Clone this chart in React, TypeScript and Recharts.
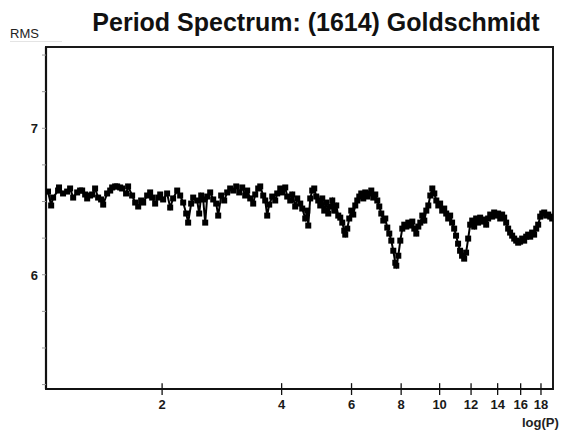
import React from 'react'
import { LineChart, Line, XAxis, YAxis, ReferenceArea, ReferenceLine } from 'recharts'

const TITLE = 'Period Spectrum: (1614) Goldschmidt'

// trial period (hours), plotted on a log axis
const periods = [
  1.032, 1.051, 1.063, 1.094, 1.1, 1.126, 1.153, 1.173, 1.194, 1.222,
  1.243, 1.258, 1.28, 1.295, 1.317, 1.333, 1.356, 1.38, 1.404, 1.421,
  1.454, 1.48, 1.497, 1.523, 1.541, 1.568, 1.586, 1.623, 1.642, 1.681,
  1.711, 1.741, 1.771, 1.792, 1.834, 1.866, 1.888, 1.921, 1.955, 1.978,
  2.012, 2.059, 2.096, 2.132, 2.183, 2.221, 2.26, 2.3, 2.326, 2.367,
  2.395, 2.451, 2.48, 2.509, 2.538, 2.568, 2.598, 2.643, 2.69, 2.737,
  2.769, 2.817, 2.867, 2.917, 2.968, 3.021, 3.074, 3.128, 3.183, 3.238,
  3.276, 3.334, 3.392, 3.432, 3.492, 3.533, 3.595, 3.637, 3.679, 3.722,
  3.788, 3.854, 3.899, 3.968, 4.014, 4.085, 4.132, 4.205, 4.254, 4.328,
  4.379, 4.456, 4.508, 4.587, 4.641, 4.668, 4.722, 4.777, 4.833, 4.889,
  4.946, 5.004, 5.063, 5.122, 5.181, 5.242, 5.303, 5.365, 5.428, 5.491,
  5.555, 5.62, 5.686, 5.752, 5.785, 5.853, 5.921, 5.99, 6.06, 6.131,
  6.203, 6.275, 6.348, 6.422, 6.497, 6.573, 6.65, 6.728, 6.806, 6.886,
  6.966, 7.047, 7.13, 7.213, 7.297, 7.382, 7.468, 7.556, 7.644, 7.733,
  7.778, 7.869, 7.961, 8.053, 8.147, 8.242, 8.339, 8.436, 8.535, 8.634,
  8.735, 8.837, 8.94, 9.044, 9.15, 9.257, 9.365, 9.474, 9.585, 9.697,
  9.81, 9.924, 10.03, 10.15, 10.27, 10.39, 10.51, 10.63, 10.75, 10.88,
  11.0, 11.13, 11.26, 11.39, 11.53, 11.66, 11.8, 11.94, 12.08, 12.22,
  12.36, 12.5, 12.65, 12.8, 12.95, 13.1, 13.25, 13.41, 13.56, 13.72,
  13.88, 14.04, 14.21, 14.37, 14.54, 14.71, 14.88, 15.05, 15.23, 15.41,
  15.59, 15.77, 15.95, 16.14, 16.33, 16.52, 16.71, 16.91, 17.1, 17.3,
  17.51, 17.71, 17.92, 18.13, 18.34, 18.55, 18.77, 18.99, 19.21,
]

// RMS of the fit residuals at each trial period
const rms = [
  6.568, 6.473, 6.527, 6.575, 6.596, 6.555, 6.568, 6.589, 6.527, 6.562,
  6.575, 6.575, 6.548, 6.521, 6.541, 6.548, 6.589, 6.527, 6.514, 6.479,
  6.555, 6.575, 6.596, 6.603, 6.603, 6.596, 6.589, 6.555, 6.603, 6.541,
  6.493, 6.466, 6.507, 6.493, 6.541, 6.562, 6.527, 6.486, 6.527, 6.548,
  6.514, 6.555, 6.459, 6.521, 6.575, 6.541, 6.493, 6.418, 6.356, 6.486,
  6.527, 6.507, 6.418, 6.541, 6.514, 6.356, 6.534, 6.562, 6.514, 6.486,
  6.404, 6.541, 6.507, 6.562, 6.589, 6.575, 6.603, 6.562, 6.596, 6.541,
  6.575, 6.521, 6.486, 6.548, 6.589, 6.603, 6.541, 6.507, 6.404, 6.479,
  6.534, 6.507, 6.555, 6.589, 6.562, 6.596, 6.534, 6.507, 6.548, 6.466,
  6.521, 6.486, 6.452, 6.384, 6.438, 6.336, 6.521, 6.575, 6.589, 6.534,
  6.507, 6.473, 6.521, 6.438, 6.493, 6.418, 6.466, 6.507, 6.438, 6.473,
  6.404, 6.39, 6.356, 6.301, 6.274, 6.315, 6.384, 6.438, 6.411, 6.473,
  6.507, 6.534, 6.555, 6.521, 6.562, 6.534, 6.555, 6.575, 6.527, 6.548,
  6.507, 6.466, 6.418, 6.37, 6.384, 6.322, 6.281, 6.233, 6.164, 6.082,
  6.062, 6.13, 6.233, 6.315, 6.342, 6.329, 6.356, 6.336, 6.363, 6.315,
  6.281, 6.329, 6.356, 6.404, 6.37, 6.438, 6.473, 6.541, 6.589, 6.555,
  6.507, 6.473, 6.486, 6.438, 6.452, 6.418, 6.384, 6.404, 6.356, 6.315,
  6.267, 6.212, 6.164, 6.13, 6.11, 6.151, 6.247, 6.342, 6.37, 6.329,
  6.384, 6.356, 6.39, 6.363, 6.377, 6.342, 6.384, 6.411, 6.397, 6.425,
  6.404, 6.418, 6.384, 6.411, 6.39, 6.356, 6.315, 6.288, 6.267, 6.247,
  6.233, 6.219, 6.226, 6.247, 6.233, 6.26, 6.274, 6.26, 6.288, 6.274,
  6.315, 6.342, 6.397, 6.418, 6.425, 6.404, 6.411, 6.397, 6.384,
]

const xTicks = [2, 4, 6, 8, 10, 12, 14, 16, 18]
const yTicks = [5.25, 5.5, 5.75, 6, 6.25, 6.5, 6.75, 7, 7.25, 7.5]
const yLabels = [6, 7]
const X_DOMAIN: [number, number] = [1.02, 19.3]
const Y_DOMAIN: [number, number] = [5.22, 7.555]

const data = periods.map((p, i) => ({ period: p, rms: rms[i] }))

const FONT = '"Liberation Sans", Arial, Helvetica, sans-serif'

function XTick({ x, y, payload }: any) {
  return (
    <text x={x} y={y + 12} textAnchor="middle" fontSize={13} fontWeight="bold" fontFamily={FONT} fill="#1a1a1a">
      {payload.value}
    </text>
  )
}

function YTick({ x, y, payload }: any) {
  if (!yLabels.includes(payload.value)) return <g />
  return (
    <text x={x} y={y + 5} textAnchor="end" fontSize={13} fontWeight="bold" fontFamily={FONT} fill="#1a1a1a">
      {payload.value}
    </text>
  )
}

function SquareDot({ cx, cy, index }: any) {
  return <rect key={`sq-${index}`} x={cx - 3} y={cy - 3} width={6} height={6} fill="#000" />
}

export default function App() {
  return (
    <div style={{ position: 'absolute', left: 0, top: 0, width: 564, height: 432, background: '#fff' }}>
      <LineChart width={564} height={432} data={data} margin={{ top: 47, right: 11, left: 0, bottom: 0 }}>
        <XAxis
          dataKey="period"
          type="number"
          scale="log"
          domain={X_DOMAIN}
          allowDataOverflow
          ticks={xTicks}
          interval={0}
          height={43}
          tickSize={6}
          tickMargin={2}
          tickLine={{ stroke: '#111', strokeWidth: 1.3 }}
          tick={<XTick />}
          axisLine={{ stroke: '#111', strokeWidth: 2.2 }}
        />
        <YAxis
          type="number"
          domain={Y_DOMAIN}
          allowDataOverflow
          ticks={yTicks}
          interval={0}
          width={46}
          tickSize={4}
          tickMargin={4}
          tickLine={{ stroke: '#999', strokeWidth: 1 }}
          tick={<YTick />}
          axisLine={{ stroke: '#111', strokeWidth: 2.2 }}
        />
        <ReferenceArea
          x1={X_DOMAIN[0]}
          x2={X_DOMAIN[1]}
          y1={Y_DOMAIN[0]}
          y2={Y_DOMAIN[1]}
          fill="none"
          stroke="#1a1a1a"
          strokeWidth={2}
          ifOverflow="visible"
        />
        {xTicks.map((t) => (
          <ReferenceLine
            key={t}
            segment={[{ x: t, y: Y_DOMAIN[0] }, { x: t, y: Y_DOMAIN[0] + 0.04 }]}
            stroke="#111"
            strokeWidth={1.3}
            ifOverflow="visible"
          />
        ))}
        <Line
          type="linear"
          dataKey="rms"
          stroke="#000"
          strokeWidth={2}
          dot={SquareDot}
          activeDot={false}
          isAnimationActive={false}
        />
      </LineChart>
      <svg width={564} height={432} style={{ position: 'absolute', left: 0, top: 0, pointerEvents: 'none' }}>
        <text x={316} y={31} textAnchor="middle" fontSize={25} fontWeight="bold" fontFamily={FONT} fill="#111">
          {TITLE}
        </text>
        <text x={10} y={38} fontSize={13} fontFamily={FONT} fill="#222">RMS</text>
        <line x1={10} x2={62} y1={41.5} y2={41.5} stroke="#e4e4e4" strokeWidth={1} />
        <text x={522} y={427} fontSize={13} fontWeight="bold" fontFamily={FONT} fill="#222">log(P)</text>
      </svg>
    </div>
  )
}
